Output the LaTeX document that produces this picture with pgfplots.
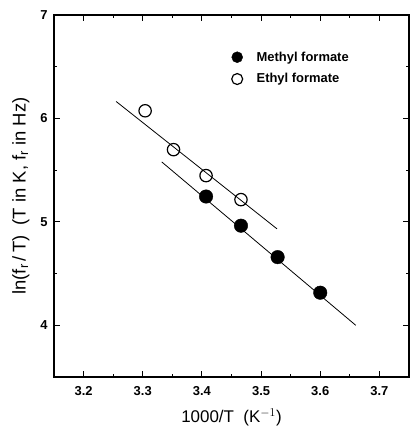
\documentclass[border=0pt]{standalone}
\usepackage{pgfplots}
\pgfplotsset{compat=1.18}
\usepackage{fontspec}
\setmainfont{Liberation Sans}

\begin{document}
\begin{tikzpicture}
\begin{axis}[
    scale only axis,
    width=355bp, height=362bp,
    xmin=3.15, xmax=3.75,
    ymin=3.5, ymax=7,
    xtick={3.2,3.3,...,3.7},
    ytick={4,5,6,7},
    minor xtick={3.25,3.35,...,3.75},
    minor ytick={4.5,5.5,6.5},
    xticklabel style={/pgf/number format/fixed,/pgf/number format/precision=1},
    tick align=inside,
    major tick length=6pt, minor tick length=3pt,
    axis line style={line width=1.2pt},
    tick style={line width=1pt, black},
    tick label style={font=\fontsize{13}{15}\selectfont\bfseries},
    xticklabel style={yshift=-6pt},
    yticklabel style={xshift=-3pt},
    /pgf/number format/assume math mode=true,
    xlabel={1000/T\ \ (K$^{-1}$)},
    ylabel={ln(f$_\mathrm{r}$\,/\,T)\ \ (T in K, f$_\mathrm{r}$ in Hz)},
    xlabel style={font=\fontsize{17}{19}\selectfont, yshift=-6pt},
    ylabel style={font=\fontsize{18.5}{20}\selectfont, yshift=4pt},
    legend style={at={(axis cs:3.445,6.685)}, anchor=north west, draw=none, fill=none,
        font=\fontsize{13}{15}\selectfont\bfseries, row sep=7pt},
    legend cell align=left,
    legend image post style={mark size=5.5pt},
]
% fitted lines
\addplot[black, line width=0.8pt, forget plot] coordinates {(3.332,5.58) (3.660,4.00)};
\addplot[black, line width=0.8pt, forget plot] coordinates {(3.255,6.164) (3.527,4.932)};

\addplot[only marks, mark=*, mark size=6.8pt, fill=black, draw=black] coordinates {
    (3.407,5.245) (3.466,4.963) (3.528,4.659) (3.600,4.315)
};
\addlegendentry{\hspace{12pt}Methyl formate}
\addplot[only marks, mark=o, mark size=6.2pt, line width=1.2pt, draw=black] coordinates {
    (3.304,6.074) (3.352,5.698) (3.407,5.447) (3.466,5.215)
};
\addlegendentry{\hspace{12pt}Ethyl formate}
\end{axis}
\pgfresetboundingbox
\path ([shift={(-54bp,-60bp)}]current axis.south west) rectangle ([shift={(1bp,15bp)}]current axis.north east);
\end{tikzpicture}
\end{document}
